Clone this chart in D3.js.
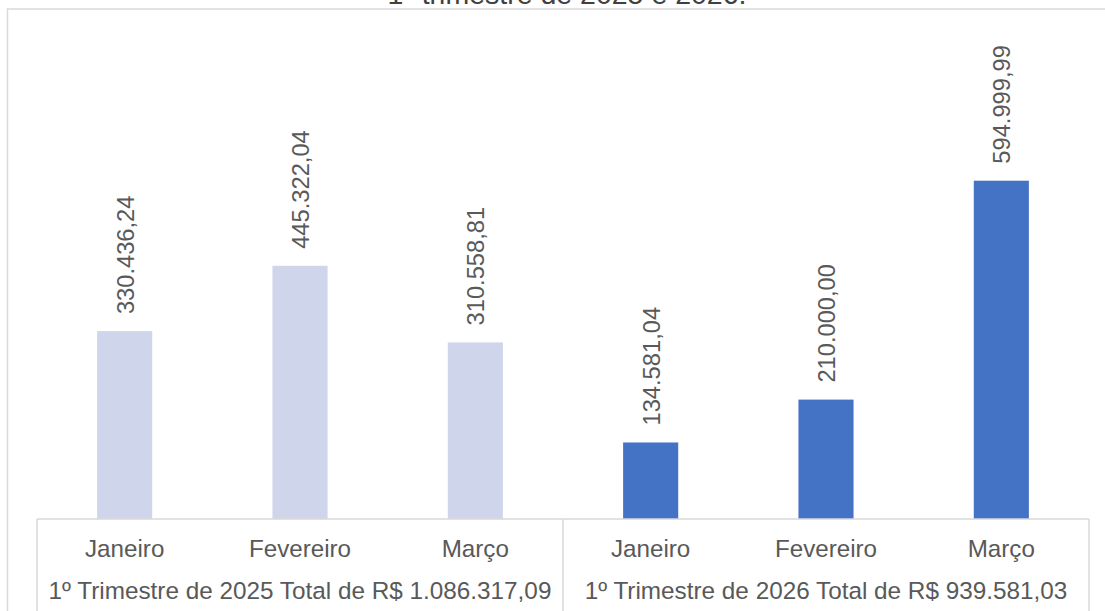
<!DOCTYPE html>
<html>
<head>
<meta charset="utf-8">
<script src="https://cdn.jsdelivr.net/npm/d3@7"></script>
<style>
  html, body { margin: 0; padding: 0; background: #fff; }
  svg { display: block; font-family: "Liberation Sans", Arial, sans-serif; }
</style>
</head>
<body>
<svg id="chart" width="1105" height="611"></svg>
<script>
const title = "1º trimestre de 2025 e 2026.";
const months = ["Janeiro", "Fevereiro", "Março"];
const groups = ["1º Trimestre de 2025 Total de R$ 1.086.317,09", "1º Trimestre de 2026 Total de R$ 939.581,03"];
const values2025 = [330436.24, 445322.04, 310558.81];
const values2026 = [134581.04, 210000.00, 594999.99];
const colors = ["#CFD5EA", "#4472C4"];

const fmt = v => {
  const [i, d] = v.toFixed(2).split(".");
  return i.replace(/\B(?=(\d{3})+(?!\d))/g, ".") + "," + d;
};

const rows = [];
[values2025, values2026].forEach((arr, gi) => {
  arr.forEach((v, mi) => rows.push({ key: gi + "-" + mi, group: gi, month: months[mi], value: v }));
});

const svg = d3.select("#chart");
const left = 37, right = 1089, baseY = 519, topY = 121;

const x = d3.scaleBand().domain(rows.map(d => d.key)).range([left, right]).paddingInner(0.6857).paddingOuter(0.3429);
const y = d3.scaleLinear().domain([0, 700000]).range([baseY, topY]);

// outer frame
svg.append("path")
  .attr("d", `M7.5,611 L7.5,9 L1110,9`)
  .attr("fill", "none").attr("stroke", "#D9D9D9").attr("stroke-width", 1.5);

// title (cut off at top edge, as in the reference)
svg.append("text")
  .attr("x", 567).attr("y", 4)
  .attr("text-anchor", "middle")
  .attr("font-size", 28.5)
  .attr("fill", "#404040")
  .text(title);

// bars
svg.selectAll("rect.bar").data(rows).join("rect")
  .attr("class", "bar")
  .attr("x", d => x(d.key))
  .attr("width", x.bandwidth())
  .attr("y", d => y(d.value))
  .attr("height", d => y(0) - y(d.value))
  .attr("fill", d => colors[d.group]);

// data labels
svg.selectAll("text.lbl").data(rows).join("text")
  .attr("class", "lbl")
  .attr("transform", d => `translate(${x(d.key) + x.bandwidth() / 2 + 0.5},${y(d.value) - 17}) rotate(-90)`)
  .attr("dy", "0.36em")
  .attr("font-size", 23.7)
  .attr("fill", "#595959")
  .text(d => fmt(d.value));

// axis lines
const gridColor = "#D9D9D9";
svg.append("line").attr("x1", left).attr("x2", right).attr("y1", baseY).attr("y2", baseY)
  .attr("stroke", gridColor).attr("stroke-width", 1.5);
const groupBounds = [left, x(rows[3].key) - x.step() * x.paddingInner() / 2, right];
svg.selectAll("line.sep").data(groupBounds).join("line")
  .attr("class", "sep")
  .attr("x1", d => d).attr("x2", d => d)
  .attr("y1", baseY).attr("y2", 611)
  .attr("stroke", gridColor).attr("stroke-width", 1.5);

// month labels
svg.selectAll("text.month").data(rows).join("text")
  .attr("class", "month")
  .attr("x", d => x(d.key) + x.bandwidth() / 2)
  .attr("y", 557)
  .attr("text-anchor", "middle")
  .attr("font-size", 24.2)
  .attr("fill", "#595959")
  .text(d => d.month);

// group labels
svg.selectAll("text.grp").data(groups).join("text")
  .attr("class", "grp")
  .attr("x", (d, i) => (groupBounds[i] + groupBounds[i + 1]) / 2)
  .attr("y", 599)
  .attr("text-anchor", "middle")
  .attr("font-size", 24.3)
  .attr("fill", "#595959")
  .text(d => d);
</script>
</body>
</html>
